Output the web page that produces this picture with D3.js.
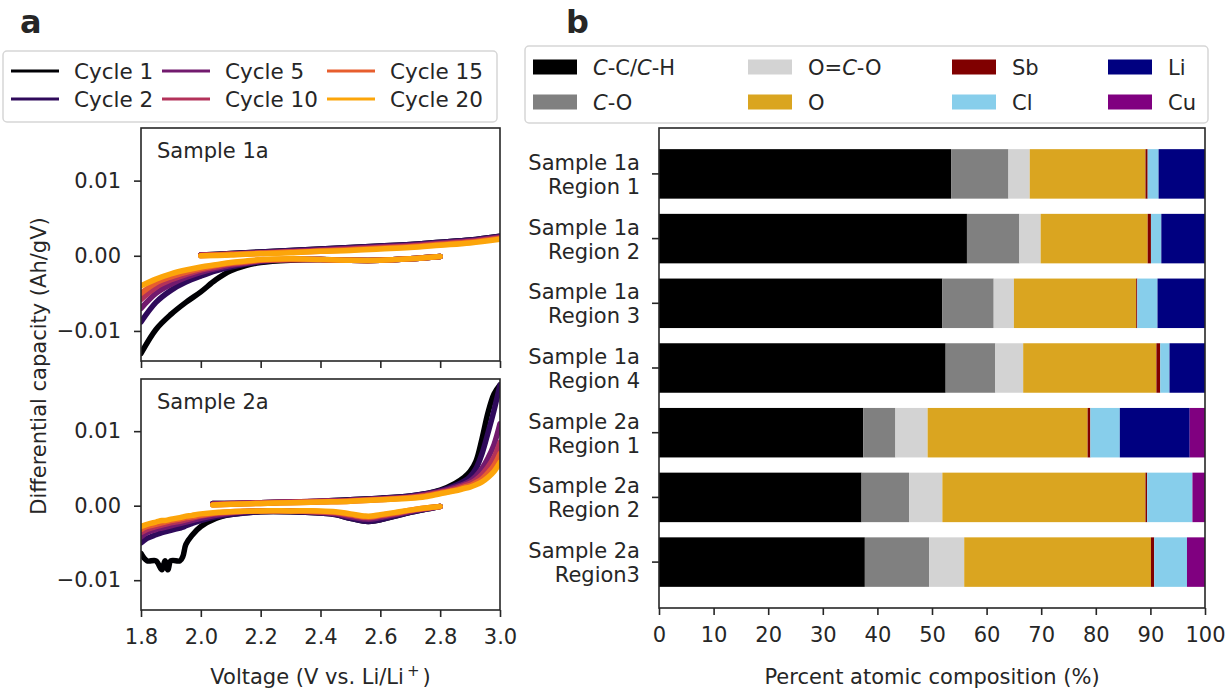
<!DOCTYPE html>
<html><head><meta charset="utf-8">
<script src="https://cdn.jsdelivr.net/npm/d3@7"></script>
<style>
body{margin:0;background:#fff}
svg{display:block}
text{font-family:"DejaVu Sans",sans-serif;fill:#262626}
</style>
</head><body>
<svg id="chart" width="1229" height="692"></svg>
<script>
// ---------------- DATA ----------------
const cycles = ["Cycle 1", "Cycle 2", "Cycle 5", "Cycle 10", "Cycle 15", "Cycle 20"];
const voltTicks = [1.8, 2.0, 2.2, 2.4, 2.6, 2.8, 3.0];
const capTicks = [-0.01, 0.00, 0.01];

// Sample 1a, discharge branch (voltage grid, then one row per cycle)
const s1DisV = [2.8, 2.7, 2.6, 2.5, 2.4, 2.3, 2.2, 2.15, 2.1, 2.05, 2.0, 1.95, 1.9, 1.85, 1.8];
const s1Dis = [
  [-0.0001,-0.0004,-0.0006,-0.0006,-0.0005,-0.0006,-0.0009,-0.0013,-0.0020,-0.0032,-0.0048,-0.0062,-0.0078,-0.0098,-0.0130],
  [-0.0001,-0.0004,-0.0006,-0.0006,-0.0005,-0.0005,-0.0008,-0.0011,-0.0015,-0.0020,-0.0027,-0.0035,-0.0046,-0.0062,-0.0088],
  [-0.0001,-0.0004,-0.0006,-0.0006,-0.0005,-0.0005,-0.0007,-0.0010,-0.0013,-0.0017,-0.0022,-0.0029,-0.0038,-0.0050,-0.0070],
  [-0.0001,-0.0004,-0.0006,-0.0006,-0.0005,-0.0005,-0.0006,-0.0009,-0.0011,-0.0015,-0.0019,-0.0025,-0.0032,-0.0042,-0.0058],
  [-0.0001,-0.0004,-0.0006,-0.0006,-0.0005,-0.0005,-0.0006,-0.0008,-0.0010,-0.0013,-0.0017,-0.0022,-0.0028,-0.0036,-0.0050],
  [-0.0001,-0.0004,-0.0006,-0.0006,-0.0005,-0.0004,-0.0005,-0.0007,-0.0009,-0.0012,-0.0015,-0.0019,-0.0024,-0.0031,-0.0040]
];
// Sample 1a, charge branch
const s1ChgV = [2.0, 2.1, 2.2, 2.3, 2.4, 2.5, 2.6, 2.7, 2.8, 2.9, 3.0];
const s1Chg = [
  [0.0001,0.0003,0.0005,0.0007,0.0009,0.0011,0.0013,0.0015,0.0018,0.0021,0.0026],
  [0.0001,0.0003,0.0005,0.0007,0.0009,0.0011,0.0013,0.0015,0.0018,0.0021,0.0026],
  [0.0001,0.0002,0.0004,0.0006,0.0008,0.0010,0.0012,0.0014,0.0017,0.0020,0.0025],
  [0.0001,0.0002,0.0004,0.0005,0.0007,0.0009,0.0011,0.0013,0.0016,0.0019,0.0024],
  [0.0000,0.0002,0.0003,0.0005,0.0006,0.0008,0.0010,0.0012,0.0015,0.0018,0.0023],
  [0.0000,0.0001,0.0003,0.0004,0.0006,0.0007,0.0009,0.0011,0.0014,0.0017,0.0022]
];
// Sample 2a, discharge branch
const s2DisV = [2.8, 2.75, 2.7, 2.65, 2.6, 2.57, 2.55, 2.5, 2.45, 2.4, 2.3, 2.2, 2.1, 2.05, 2.0, 1.97, 1.95, 1.94, 1.93, 1.9, 1.89, 1.88, 1.87, 1.85, 1.82, 1.8];
const s2Dis = [
  [-0.0001,-0.0005,-0.0009,-0.0014,-0.0019,-0.0021,-0.0021,-0.0017,-0.0012,-0.0010,-0.0008,-0.0008,-0.0012,-0.0017,-0.0028,-0.0040,-0.0052,-0.0068,-0.0074,-0.0074,-0.0086,-0.0074,-0.0086,-0.0074,-0.0074,-0.0064],
  [-0.0001,-0.0005,-0.0009,-0.0014,-0.0019,-0.0021,-0.0021,-0.0017,-0.0012,-0.0010,-0.0008,-0.0008,-0.0012,-0.0015,-0.0020,-0.0024,-0.0027,-0.0029,-0.0030,-0.0033,-0.0034,-0.0035,-0.0036,-0.0039,-0.0044,-0.0050],
  [-0.0001,-0.0004,-0.0008,-0.0012,-0.0016,-0.0018,-0.0018,-0.0015,-0.0011,-0.0009,-0.0007,-0.0007,-0.0010,-0.0013,-0.0017,-0.0020,-0.0022,-0.0023,-0.0024,-0.0027,-0.0028,-0.0029,-0.0030,-0.0032,-0.0036,-0.0042],
  [-0.0001,-0.0004,-0.0007,-0.0011,-0.0014,-0.0016,-0.0016,-0.0013,-0.0010,-0.0008,-0.0007,-0.0007,-0.0009,-0.0011,-0.0014,-0.0017,-0.0019,-0.0020,-0.0021,-0.0023,-0.0024,-0.0025,-0.0026,-0.0028,-0.0032,-0.0036],
  [-0.0001,-0.0003,-0.0006,-0.0010,-0.0013,-0.0015,-0.0015,-0.0012,-0.0009,-0.0008,-0.0007,-0.0007,-0.0008,-0.0010,-0.0013,-0.0015,-0.0016,-0.0017,-0.0018,-0.0020,-0.0021,-0.0022,-0.0023,-0.0025,-0.0028,-0.0032],
  [-0.0001,-0.0003,-0.0006,-0.0009,-0.0012,-0.0014,-0.0014,-0.0011,-0.0008,-0.0007,-0.0007,-0.0007,-0.0008,-0.0009,-0.0011,-0.0013,-0.0014,-0.0015,-0.0016,-0.0018,-0.0019,-0.0020,-0.0020,-0.0022,-0.0025,-0.0028]
];
// Sample 2a, charge branch
const s2ChgV = [2.04, 2.1, 2.2, 2.3, 2.4, 2.5, 2.6, 2.7, 2.75, 2.8, 2.85, 2.88, 2.9, 2.92, 2.94, 2.96, 2.98, 3.0];
const s2Chg = [
  [0.0003,0.0003,0.0004,0.0005,0.0006,0.0008,0.0010,0.0013,0.0016,0.0021,0.0030,0.0038,0.0046,0.0060,0.0090,0.0125,0.0150,0.0162],
  [0.0003,0.0003,0.0004,0.0005,0.0006,0.0008,0.0010,0.0013,0.0016,0.0020,0.0027,0.0033,0.0039,0.0050,0.0070,0.0098,0.0128,0.0162],
  [0.0002,0.0003,0.0004,0.0005,0.0006,0.0007,0.0009,0.0012,0.0015,0.0019,0.0025,0.0029,0.0033,0.0040,0.0050,0.0064,0.0082,0.0110],
  [0.0002,0.0003,0.0004,0.0005,0.0006,0.0007,0.0009,0.0011,0.0014,0.0018,0.0023,0.0027,0.0030,0.0035,0.0042,0.0052,0.0065,0.0085],
  [0.0001,0.0002,0.0003,0.0004,0.0005,0.0006,0.0008,0.0011,0.0013,0.0017,0.0021,0.0025,0.0027,0.0031,0.0036,0.0044,0.0054,0.0070],
  [0.0001,0.0002,0.0003,0.0004,0.0005,0.0006,0.0008,0.0010,0.0012,0.0016,0.0020,0.0023,0.0025,0.0028,0.0032,0.0038,0.0046,0.0058]
];

// Panel b: atomic composition (%)
const categories = ["Sample 1a|Region 1", "Sample 1a|Region 2", "Sample 1a|Region 3", "Sample 1a|Region 4",
                    "Sample 2a|Region 1", "Sample 2a|Region 2", "Sample 2a|Region3"];
const components = ["C-C/C-H", "C-O", "O=C-O", "O", "Sb", "Cl", "Li", "Cu"];
const ccch  = [53.5, 56.4, 51.9, 52.5, 37.4, 37.1, 37.7];
const co    = [10.5,  9.6,  9.4,  9.1,  5.9,  8.7, 11.8];
const oco   = [ 3.9,  3.9,  3.7,  5.1,  5.9,  6.1,  6.4];
const oxy   = [21.2, 19.6, 22.4, 24.4, 29.3, 37.2, 34.2];
const sb    = [ 0.4,  0.6,  0.2,  0.7,  0.5,  0.3,  0.6];
const cl    = [ 2.0,  1.9,  3.7,  1.7,  5.4,  8.3,  6.0];
const li    = [ 8.5,  8.0,  8.7,  6.5, 12.8,  0.0,  0.0];
const cu    = [ 0.0,  0.0,  0.0,  0.0,  2.8,  2.3,  3.3];
const pctTicks = [0, 10, 20, 30, 40, 50, 60, 70, 80, 90, 100];

// ---------------- STYLE ----------------
const FS = 21;
const INK = "#262626";
const cycleT = [0, 0.16, 0.32, 0.48, 0.64, 0.8];
const cycleColor = cycleT.map(t => d3.interpolateInferno(t));
const compColor = ["#000000", "#808080", "#d3d3d3", "#daa520", "#800000", "#87ceeb", "#000080", "#800080"];

const svg = d3.select("#chart");

function styleAxis(g) {
  g.select(".domain").remove();
  g.selectAll(".tick line").attr("stroke", INK).attr("stroke-width", 1.6);
  g.selectAll(".tick text").attr("font-size", FS).attr("font-family", "DejaVu Sans").attr("fill", INK);
  g.attr("font-size", FS).attr("font-family", "DejaVu Sans");
}

// ---------------- PANEL A ----------------
const xV = d3.scaleLinear().domain([1.8, 3.0]).range([141, 500]);
const panelsA = [
  {label: "Sample 1a", top: 128, bottom: 361, dis: [s1DisV, s1Dis], chg: [s1ChgV, s1Chg], showX: false},
  {label: "Sample 2a", top: 379, bottom: 610, dis: [s2DisV, s2Dis], chg: [s2ChgV, s2Chg], showX: true}
];

panelsA.forEach((p, pi) => {
  const y = d3.scaleLinear().domain([-0.0140, 0.0170]).range([p.bottom, p.top]);
  const clipId = "clipA" + pi;
  svg.append("clipPath").attr("id", clipId).append("rect")
    .attr("x", xV.range()[0]).attr("y", p.top)
    .attr("width", xV.range()[1] - xV.range()[0]).attr("height", p.bottom - p.top);

  const line = d3.line().x(d => xV(d[0])).y(d => y(d[1])).curve(d3.curveCatmullRom.alpha(0.5));
  const gl = svg.append("g").attr("clip-path", `url(#${clipId})`);
  cycles.forEach((c, ci) => {
    [p.dis, p.chg].forEach(([vs, rows]) => {
      const pts = vs.map((v, k) => [v, rows[ci][k]]);
      gl.append("path").attr("d", line(pts)).attr("fill", "none")
        .attr("stroke", cycleColor[ci]).attr("stroke-width", 5.5)
        .attr("stroke-linejoin", "round").attr("stroke-linecap", "round");
    });
  });

  // axes
  const gx = svg.append("g").attr("transform", `translate(0,${p.bottom})`)
    .call(d3.axisBottom(xV).tickValues(voltTicks).tickSize(7).tickPadding(12)
      .tickFormat(p.showX ? d3.format(".1f") : () => ""));
  styleAxis(gx);
  const gy = svg.append("g").attr("transform", `translate(${xV.range()[0]},0)`)
    .call(d3.axisLeft(y).tickValues(capTicks).tickSize(7).tickPadding(13).tickFormat(d3.format(".2f")));
  styleAxis(gy);

  svg.append("rect").attr("x", xV.range()[0]).attr("y", p.top)
    .attr("width", xV.range()[1] - xV.range()[0]).attr("height", p.bottom - p.top)
    .attr("fill", "none").attr("stroke", INK).attr("stroke-width", 1.6);

  svg.append("text").attr("x", 157).attr("y", p.top + 30).attr("font-size", FS).text(p.label);
});

svg.append("text").attr("x", xV(2.4)).attr("y", 684).attr("text-anchor", "middle").attr("font-size", FS)
  .call(t => {
    t.append("tspan").text("Voltage (V vs. Li/Li");
    t.append("tspan").attr("dy", -8).attr("dx", 3).attr("font-size", 15).text("+");
    t.append("tspan").attr("dy", 8).attr("dx", 3).text(")");
  });
svg.append("text").attr("transform", "translate(46,366) rotate(-90)")
  .attr("text-anchor", "middle").attr("font-size", FS).text("Differential capacity (Ah/gV)");

svg.append("text").attr("x", 20).attr("y", 33).attr("font-size", 32).attr("font-weight", "bold").attr("fill", "#000").text("a");

// legend a
svg.append("rect").attr("x", 3).attr("y", 51).attr("width", 494).attr("height", 71).attr("rx", 4)
  .attr("fill", "#fff").attr("stroke", "#d6d6d6").attr("stroke-width", 1.5);
const legAcolX = [11, 162, 327];
const legArowY = [71, 99];
cycles.forEach((c, i) => {
  const col = Math.floor(i / 2), row = i % 2;
  const lx = legAcolX[col], ly = legArowY[row];
  svg.append("line").attr("x1", lx).attr("x2", lx + 48).attr("y1", ly).attr("y2", ly)
    .attr("stroke", cycleColor[i]).attr("stroke-width", 3.2);
  svg.append("text").attr("x", lx + 63).attr("y", ly + 8).attr("font-size", FS + 0.5).text(c);
});

// ---------------- PANEL B ----------------
const xP = d3.scaleLinear().domain([0, 100]).range([659, 1205]);
const yB = d3.scaleBand().domain(categories).range([128, 608]).paddingInner(0.235).paddingOuter(0.327);
const compArrays = [ccch, co, oco, oxy, sb, cl, li, cu];
const rows = categories.map((cat, i) => {
  const r = {cat};
  components.forEach((k, j) => r[k] = compArrays[j][i]);
  return r;
});
const stacked = d3.stack().keys(components)(rows);

const gb = svg.append("g");
stacked.forEach((s, j) => {
  gb.append("g").attr("fill", compColor[j])
    .selectAll("rect").data(s).join("rect")
    .attr("x", d => xP(d[0])).attr("width", d => Math.max(0, xP(d[1]) - xP(d[0])))
    .attr("y", d => yB(d.data.cat)).attr("height", yB.bandwidth());
});

const gxb = svg.append("g").attr("transform", "translate(0,608)")
  .call(d3.axisBottom(xP).tickValues(pctTicks).tickSize(7).tickPadding(12).tickFormat(d3.format("d")));
styleAxis(gxb);
const gyb = svg.append("g").attr("transform", "translate(659,0)")
  .call(d3.axisLeft(yB).tickSize(7).tickFormat(() => ""));
styleAxis(gyb);
gyb.selectAll(".tick").each(function(d) {
  const parts = d.split("|");
  const t = d3.select(this).append("text").attr("x", -19).attr("text-anchor", "end")
    .attr("font-size", FS).attr("fill", INK);
  t.append("tspan").attr("x", -19).attr("y", -4).text(parts[0]);
  t.append("tspan").attr("x", -19).attr("y", 20).text(parts[1]);
});
svg.append("rect").attr("x", 659).attr("y", 128).attr("width", 546).attr("height", 480)
  .attr("fill", "none").attr("stroke", INK).attr("stroke-width", 1.6);

svg.append("text").attr("x", xP(50)).attr("y", 684).attr("text-anchor", "middle").attr("font-size", FS)
  .text("Percent atomic composition (%)");
svg.append("text").attr("x", 566).attr("y", 33).attr("font-size", 32).attr("font-weight", "bold").attr("fill", "#000").text("b");

// legend b
svg.append("rect").attr("x", 525).attr("y", 46).attr("width", 683).attr("height", 77).attr("rx", 4)
  .attr("fill", "#fff").attr("stroke", "#d6d6d6").attr("stroke-width", 1.5);
const legBcolX = [533, 748, 952, 1108];
const legBrowY = [67, 102];
const legLabel = [
  [["C", true], ["-C/", false], ["C", true], ["-H", false]],
  [["C", true], ["-O", false]],
  [["O=", false], ["C", true], ["-O", false]],
  [["O", false]], [["Sb", false]], [["Cl", false]], [["Li", false]], [["Cu", false]]
];
components.forEach((c, i) => {
  const col = Math.floor(i / 2), row = i % 2;
  const lx = legBcolX[col], ly = legBrowY[row];
  svg.append("rect").attr("x", lx).attr("y", ly - 7.5).attr("width", 44).attr("height", 15).attr("fill", compColor[i]);
  const t = svg.append("text").attr("x", lx + 60).attr("y", ly + 8).attr("font-size", FS);
  legLabel[i].forEach(([s, it]) => t.append("tspan").attr("font-style", it ? "italic" : "normal").text(s));
});
</script>
</body></html>
